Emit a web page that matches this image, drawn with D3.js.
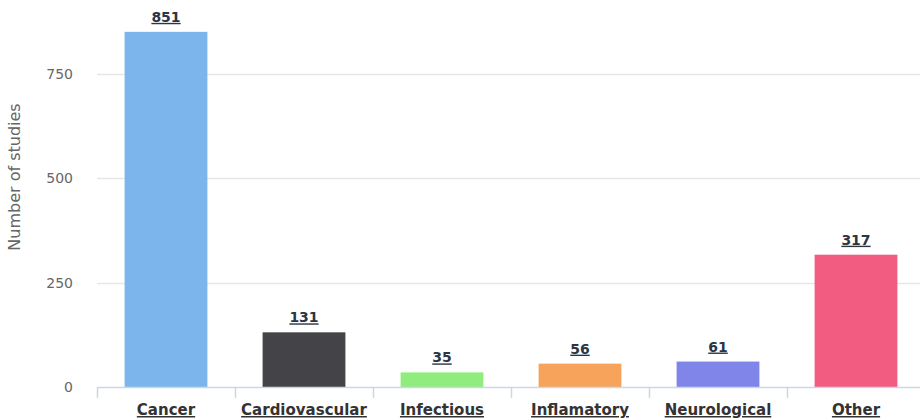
<!DOCTYPE html>
<html>
<head>
<meta charset="utf-8">
<script src="https://cdn.jsdelivr.net/npm/d3@7"></script>
<style>
  body { margin: 0; background: #fff; }
  svg { display: block; font-family: "DejaVu Sans", Verdana, sans-serif; }
</style>
</head>
<body>
<svg id="chart" width="920" height="420"></svg>
<script>
const categories = ["Cancer", "Cardiovascular", "Infectious", "Inflamatory", "Neurological", "Other"];
const studies = [851, 131, 35, 56, 61, 317];
const colors = ["#7cb5ec", "#434348", "#90ed7d", "#f7a35c", "#8085e9", "#f15c80"];
const yTicks = [0, 250, 500, 750];

const width = 920;
const height = 420;
const plotLeft = 97, plotRight = 925, plotBottom = 387;

const svg = d3.select("#chart");

const x = d3.scaleBand()
  .domain(categories)
  .range([plotLeft, plotRight])
  .paddingInner(0.4)
  .paddingOuter(0.2);

const y = d3.scaleLinear()
  .domain([0, 750])
  .range([plotBottom, 74]);

// grid
svg.append("g")
  .selectAll("line")
  .data(yTicks.filter(d => d > 0))
  .join("line")
  .attr("x1", plotLeft).attr("x2", width)
  .attr("y1", d => Math.round(y(d)) + 0.5)
  .attr("y2", d => Math.round(y(d)) + 0.5)
  .attr("stroke", "#e6e6e6")
  .attr("stroke-width", 1.5);

// y tick labels
svg.append("g")
  .selectAll("text")
  .data(yTicks)
  .join("text")
  .attr("x", 73)
  .attr("y", d => y(d) + 5)
  .attr("text-anchor", "end")
  .attr("font-size", 14)
  .attr("fill", "#666")
  .text(d => d);

// y title
svg.append("text")
  .attr("transform", `translate(20,177) rotate(-90)`)
  .attr("text-anchor", "middle")
  .attr("font-size", 16)
  .attr("fill", "#666")
  .text("Number of studies");

// bars
svg.append("g")
  .selectAll("rect")
  .data(studies)
  .join("rect")
  .attr("x", (d, i) => x(categories[i]))
  .attr("y", d => y(d))
  .attr("width", x.bandwidth())
  .attr("height", d => y(0) - y(d))
  .attr("fill", (d, i) => colors[i]);

// x axis line + ticks
svg.append("line")
  .attr("x1", plotLeft).attr("x2", width)
  .attr("y1", plotBottom + 0.5).attr("y2", plotBottom + 0.5)
  .attr("stroke", "#ccd6eb")
  .attr("stroke-width", 1.5);

const step = x.step();
svg.append("g")
  .selectAll("line")
  .data(d3.range(categories.length + 1))
  .join("line")
  .attr("x1", i => Math.round(plotLeft + i * step) + 0.5)
  .attr("x2", i => Math.round(plotLeft + i * step) + 0.5)
  .attr("y1", plotBottom)
  .attr("y2", plotBottom + 11)
  .attr("stroke", "#ccd6eb")
  .attr("stroke-width", 1.5);

// category labels
svg.append("g")
  .selectAll("text")
  .data(categories)
  .join("text")
  .attr("x", d => x(d) + x.bandwidth() / 2)
  .attr("y", 415)
  .attr("text-anchor", "middle")
  .attr("font-size", 15)
  .attr("font-weight", "bold")
  .attr("fill", "#333")
  .attr("text-decoration", "underline")
  .text(d => d);

// value labels
svg.append("g")
  .selectAll("text")
  .data(studies)
  .join("text")
  .attr("x", (d, i) => x(categories[i]) + x.bandwidth() / 2)
  .attr("y", d => y(d) - 10)
  .attr("text-anchor", "middle")
  .attr("font-size", 14)
  .attr("font-weight", "bold")
  .attr("fill", "#2b3544")
  .attr("text-decoration", "underline")
  .text(d => d);
</script>
</body>
</html>
